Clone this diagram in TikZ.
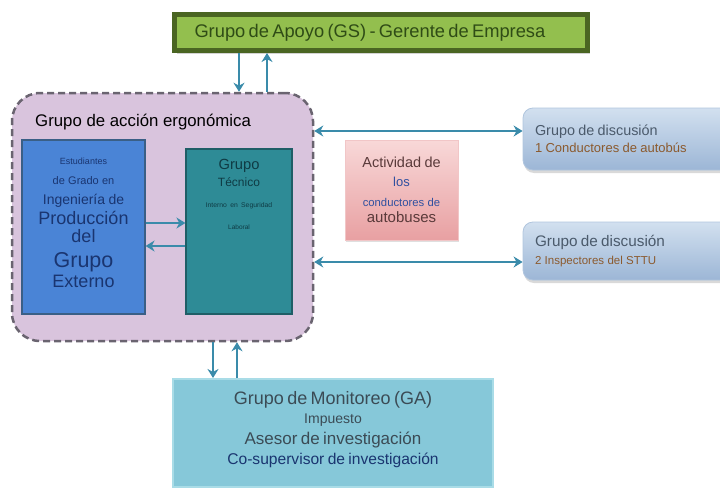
\documentclass[tikz,border=0pt]{standalone}
\usepackage{fontspec}
\setmainfont{Liberation Sans}
\usetikzlibrary{arrows.meta,shadows}

\definecolor{apoyofill}{HTML}{93BF4E}
\definecolor{apoyoline}{HTML}{4A6522}
\definecolor{apoyotext}{HTML}{2F4C16}
\definecolor{lila}{HTML}{D9C4DD}
\definecolor{grisborde}{HTML}{6A6470}
\definecolor{azulfill}{HTML}{4A84D6}
\definecolor{azulline}{HTML}{3A5F86}
\definecolor{azultext}{HTML}{1A3570}
\definecolor{tealfill}{HTML}{2E8B96}
\definecolor{tealline}{HTML}{1F5E66}
\definecolor{tealtext}{HTML}{0F3B44}
\definecolor{rosaarriba}{HTML}{F8D8D8}
\definecolor{rosaabajo}{HTML}{E8A0A2}
\definecolor{rosatext}{HTML}{5A3A3A}
\definecolor{rosaazul}{HTML}{3050A0}
\definecolor{discarriba}{HTML}{D2E0EF}
\definecolor{discabajo}{HTML}{9CB6D6}
\definecolor{disctext}{HTML}{4B5A6B}
\definecolor{discsub}{HTML}{8B5A2E}
\definecolor{monfill}{HTML}{86C8D9}
\definecolor{monline}{HTML}{A9DCE7}
\definecolor{montext}{HTML}{3B4B55}
\definecolor{flechaazul}{HTML}{3A8BAA}

\newcommand{\tam}[2]{\fontsize{#1}{#2}\selectfont}

\begin{document}
\begin{tikzpicture}[x=1pt, y=-1pt, every node/.style={inner sep=0pt},
    caja/.style={rectangle, minimum width=#1},
    flecha/.style={draw=flechaazul, line width=1.5pt, -{Stealth[length=9pt,width=11pt]}},
    doble/.style={draw=flechaazul, line width=1.5pt, {Stealth[length=9pt,width=11pt]}-{Stealth[length=9pt,width=11pt]}},
    disc/.style={rectangle, rounded corners=10pt, top color=discarriba, bottom color=discabajo,
      draw=discabajo!80!white, line width=0.8pt, minimum width=222pt, text width=198pt, inner xsep=12pt,
      align=left, text=disctext, drop shadow={shadow xshift=1pt, shadow yshift=-3pt, opacity=0.3}},]

\useasboundingbox (0,0) rectangle (720,490);

\node[caja=413pt, minimum height=36pt, fill=apoyofill, draw=apoyoline, line width=5pt,
  text width=373pt, inner xsep=20pt, align=left, text=apoyotext,
  drop shadow={shadow xshift=2pt, shadow yshift=-3pt, opacity=0.35}]
  (apoyo) at (381,32.5) {\tam{18.3}{20}Grupo de Apoyo (GS) - Gerente de Empresa};

\node[caja=301pt, minimum height=248pt, fill=lila, draw=grisborde, line width=2.5pt,
  dash pattern=on 7pt off 4pt, rounded corners=28pt] (accion) at (162.5,217) {};
\node[anchor=west] (acciontxt) at (35,122) {\tam{16.8}{19}Grupo de acción ergonómica};

\node[caja=123pt, minimum height=174pt, fill=azulfill, draw=azulline, line width=1.2pt,
  text width=118pt, align=center, text=azultext] (estud) at (83.5,227)
  {\tam{9}{11}Estudiantes\par
   \tam{11}{20}de Grado en\par
   \tam{14}{20}Ingeniería de\par
   \tam{18}{20}Producción\par
   \tam{18}{18}del\par
   \tam{21.5}{25}Grupo\par
   \tam{18}{20}Externo\par\vspace{8pt}};

\node[caja=106pt, minimum height=165pt, fill=tealfill, draw=tealline, line width=1.2pt] (tecnico) at (239,231.5) {};
\node[anchor=north, text width=100pt, align=center, text=tealtext] (tectxt) at (239,159)
  {\tam{14.7}{16}Grupo\par
   \tam{12}{17}Técnico\par
   \tam{6.8}{21}Interno en Seguridad\par
   \tam{6.5}{22}Laboral\par};

\node[caja=113pt, minimum height=100pt, top color=rosaarriba, bottom color=rosaabajo,
  draw=rosaabajo!60!white, line width=0.8pt, text width=108pt, align=center,
  drop shadow={shadow xshift=1pt, shadow yshift=-2pt, opacity=0.25}] (actividad) at (401.5,190)
  {\tam{14.5}{17}\textcolor{rosatext}{Actividad de}\par
   \tam{13}{19}\textcolor{rosaazul}{los}\par
   \tam{11.3}{20}\textcolor{rosaazul}{conductores de}\par
   \tam{15}{16}\textcolor{rosatext}{autobuses}\par};

\node[disc, minimum height=62pt] (disc1) at (634,139)
  {\tam{14.4}{16}Grupo de discusión\par
   \tam{13}{17}\textcolor{discsub}{1 Conductores de autobús}\par};
\node[disc, minimum height=58pt] (disc2) at (634,251)
  {\tam{15.3}{17}Grupo de discusión\par
   \tam{11.5}{18}\textcolor{discsub}{2 Inspectores del STTU}\par};

\node[caja=320pt, minimum height=108pt, fill=monfill, draw=monline, line width=2pt,
  text width=310pt, align=center, text=montext] (monitoreo) at (333,433)
  {\tam{18}{19}Grupo de Monitoreo (GA)\par
   \tam{14}{19}Impuesto\par
   \tam{17}{21}Asesor de investigación\par
   \tam{15.6}{20}\textcolor{azultext}{Co-supervisor de investigación}\par\vspace{6pt}};

\coordinate (ga1) at (239,0);
\coordinate (ga2) at (267,0);
\coordinate (gm1) at (213,0);
\coordinate (gm2) at (237,0);
\coordinate (ye1) at (0,223);
\coordinate (ye2) at (0,246);
\coordinate (yd1) at (0,131);
\coordinate (yd2) at (0,262);

\draw[flecha] (apoyo.south -| ga1) -- (accion.north -| ga1);
\draw[flecha] (accion.north -| ga2) -- (apoyo.south -| ga2);
\draw[flecha] (accion.south -| gm1) -- (monitoreo.north -| gm1);
\draw[flecha] (monitoreo.north -| gm2) -- (accion.south -| gm2);
\draw[flecha] (estud.east |- ye1) -- (tecnico.west |- ye1);
\draw[flecha] (tecnico.west |- ye2) -- (estud.east |- ye2);
\draw[doble] (accion.east |- yd1) -- (disc1.west |- yd1);
\draw[doble] (accion.east |- yd2) -- (disc2.west |- yd2);

\end{tikzpicture}
\end{document}
